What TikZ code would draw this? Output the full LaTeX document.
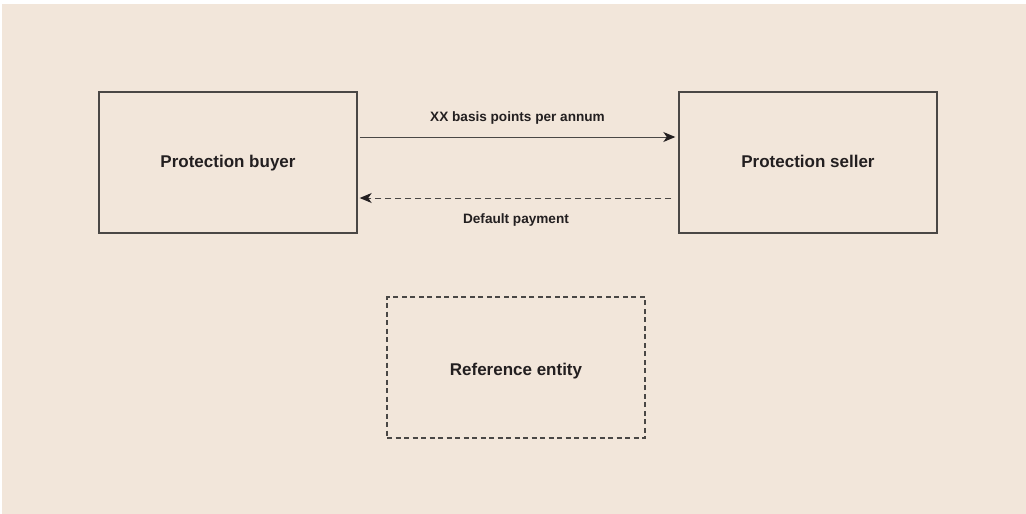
\documentclass[tikz,border=0pt]{standalone}
\usepackage{fontspec}
\setmainfont{Liberation Sans}
\usetikzlibrary{arrows.meta}
\definecolor{bgbeige}{HTML}{F2E6DA}
\definecolor{linegray}{HTML}{4A4745}
\definecolor{txtdark}{HTML}{231F20}
\tikzset{
  party/.style={draw=linegray, line width=1.4pt, minimum width=258pt, minimum height=141pt, inner sep=0pt,
    text height=12.5pt, text depth=3.5pt,
    font=\fontsize{17}{20}\selectfont\bfseries, text=txtdark},
  refbox/.style={party, line width=1.1pt, dash pattern=on 5pt off 3.5pt, text height=15pt, text depth=0pt},
  flowlabel/.style={inner sep=0pt, anchor=base, font=\fontsize{13.6}{16}\selectfont\bfseries, text=txtdark},
  payarrow/.style={draw=linegray, line width=1pt, -{Stealth[length=12pt,width=10pt,inset=3.5pt,color=txtdark]}},
  defarrow/.style={payarrow, dash pattern=on 6pt off 4pt}
}
\begin{document}
\begin{tikzpicture}[x=1pt,y=-1pt]
\fill[white] (0,0) rectangle (1026,514);
\fill[bgbeige] (2,4) rectangle (1026,514);
\useasboundingbox (0,0) rectangle (1026,514);
\node[party] (buyer) at (228,162.5) {Protection buyer};
\node[party] (seller) at (808,162.5) {Protection seller};
\node[refbox] (ref) at (516,367.5) {Reference entity};
\coordinate (a1) at (359,137);
\coordinate (b1) at (673,198);
\draw[payarrow, shorten <=2pt, shorten >=3pt] (buyer.east |- a1) -- (seller.west |- a1);
\draw[defarrow, shorten <=7pt, shorten >=2pt] (seller.west |- b1) -- (buyer.east |- b1);
\node[flowlabel] (lpay) at (517.5,121) {XX basis points per annum};
\node[flowlabel] (ldef) at (516,223) {Default payment};
\end{tikzpicture}
\end{document}
